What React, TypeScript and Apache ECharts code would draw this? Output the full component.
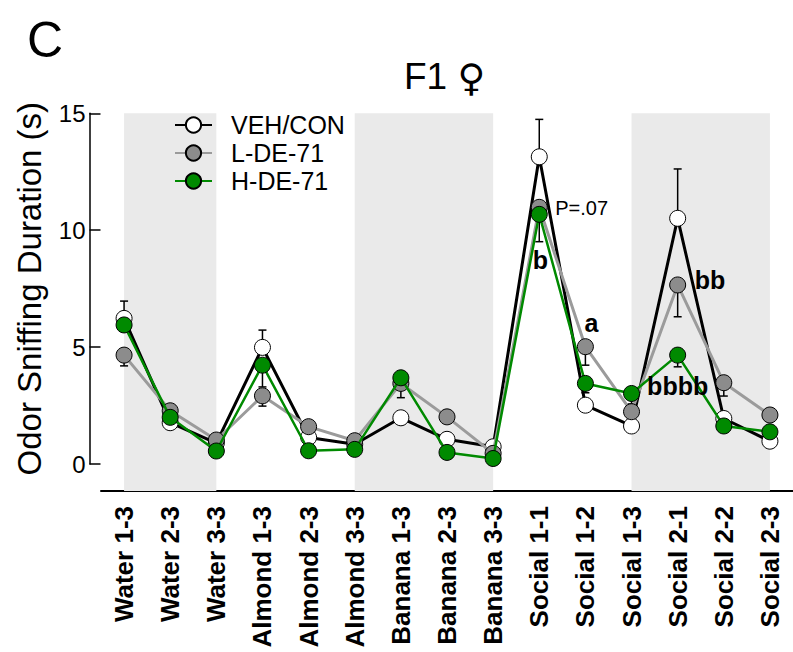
import React, { useEffect, useRef } from "react";
import * as echarts from "echarts";

const categories = [
  "Water 1-3", "Water 2-3", "Water 3-3",
  "Almond 1-3", "Almond 2-3", "Almond 3-3",
  "Banana 1-3", "Banana 2-3", "Banana 3-3",
  "Social 1-1", "Social 1-2", "Social 1-3",
  "Social 2-1", "Social 2-2", "Social 2-3",
];

const vehCon = [6.23, 1.77, 0.9, 4.99, 1.14, 0.85, 1.98, 1.06, 0.74, 13.14, 2.52, 1.63, 10.51, 1.95, 0.98];
const lowDE = [4.66, 2.28, 1.03, 2.92, 1.6, 1.0, 3.45, 2.02, 0.46, 10.98, 5.02, 2.24, 7.66, 3.48, 2.1];
const highDE = [5.95, 2.0, 0.56, 4.23, 0.57, 0.63, 3.69, 0.5, 0.24, 10.68, 3.45, 3.02, 4.66, 1.63, 1.38];

// error bar end values (null = not visible)
const vehErrEnd = [6.97, null, null, 5.73, null, null, null, null, null, 14.74, null, null, 12.62, null, null];
const lowErrEnd = [4.2, null, null, 2.48, null, null, 2.84, null, null, 9.51, 4.23, null, 6.3, 2.91, null];
const highErrEnd = [null, null, null, 3.3, null, null, null, null, null, null, 3.05, 2.57, 4.16, null, null];

const yTicks = [0, 5, 10, 15];

const bands = [
  ["Water 1-3", "Water 3-3"],
  ["Almond 3-3", "Banana 3-3"],
  ["Social 1-3", "Social 2-3"],
];

const FONT = "'Liberation Sans', Arial, Helvetica, sans-serif";

function errData(vals: number[], ends: (number | null)[]) {
  const out: number[][] = [];
  ends.forEach((e, i) => {
    if (e !== null) out.push([i, vals[i], e]);
  });
  return out;
}

const errRender = (params: any, api: any) => {
  const x = api.value(0);
  const v = api.value(1);
  const e = api.value(2);
  const p1 = api.coord([x, v]);
  const p2 = api.coord([x, e]);
  const cap = 4;
  return {
    type: "group",
    children: [
      { type: "line", shape: { x1: p1[0], y1: p1[1], x2: p2[0], y2: p2[1] }, style: { stroke: "#000", lineWidth: 1.5 } },
      { type: "line", shape: { x1: p2[0] - cap, y1: p2[1], x2: p2[0] + cap, y2: p2[1] }, style: { stroke: "#000", lineWidth: 1.5 } },
    ],
  };
};

export default function App() {
  const ref = useRef<HTMLDivElement>(null);
  useEffect(() => {
    if (!ref.current) return;
    const chart = echarts.init(ref.current, null, { renderer: "svg" });
    const annoBold = { fontFamily: FONT, fontWeight: "bold", fontSize: 25, color: "#000" };
    const option: any = {
      animation: false,
      backgroundColor: "#fff",
      textStyle: { fontFamily: FONT },
      title: [
        { text: "C", left: 22, top: 10, textStyle: { fontFamily: FONT, fontSize: 50, fontWeight: "normal", color: "#000" } },
        {
          text: "F1 {g|♀}",
          left: 399,
          top: 52,
          textStyle: {
            fontFamily: FONT,
            fontSize: 37,
            fontWeight: "normal",
            color: "#000",
            rich: { g: { fontFamily: "'Noto Sans', 'DejaVu Sans', sans-serif", fontSize: 38, fontWeight: "normal", color: "#000" } },
          },
        },
      ],
      legend: {
        data: ["VEH/CON", "L-DE-71", "H-DE-71"],
        orient: "vertical",
        left: 174,
        top: 111,
        padding: 0,
        itemWidth: 37,
        itemHeight: 19,
        itemGap: 0,
        selectedMode: false,
        textStyle: { fontFamily: FONT, fontSize: 25, color: "#000", lineHeight: 28, padding: [0, 0, 0, 14] },
      },
      grid: [
        { left: 101, top: 113.3, width: 693, height: 377.7 },
        { left: 89.5, top: 113.3, width: 11, height: 350.8 },
      ],
      xAxis: [
        {
          type: "category",
          gridIndex: 0,
          data: categories,
          boundaryGap: true,
          axisLine: { onZero: false, lineStyle: { color: "#000", width: 2 } },
          axisTick: { alignWithLabel: true, length: 10, lineStyle: { color: "#000", width: 2 } },
          axisLabel: { rotate: 90, margin: 15, fontFamily: FONT, fontSize: 26, fontWeight: "bold", color: "#000", interval: 0 },
        },
        { type: "value", gridIndex: 1, show: false, min: 0, max: 1 },
      ],
      yAxis: [
        { type: "value", gridIndex: 0, min: -1.15, max: 15, show: false },
        {
          type: "value",
          gridIndex: 1,
          min: 0,
          max: 15,
          interval: 5,
          name: "Odor Sniffing Duration (s)",
          nameLocation: "middle",
          nameGap: 44,
          nameRotate: 90,
          nameTextStyle: { fontFamily: FONT, fontSize: 33, color: "#000" },
          axisLine: { show: true, lineStyle: { color: "#000", width: 1.5 } },
          axisTick: { show: true, inside: true, length: 11, lineStyle: { color: "#000", width: 1.5 } },
          axisLabel: {
            margin: 4,
            fontFamily: FONT,
            fontSize: 24,
            color: "#000",
            formatter: (v: number) => (yTicks.includes(v) ? String(v) : ""),
          },
          splitLine: { show: false },
        },
      ],
      series: [
        {
          name: "bands",
          type: "line",
          xAxisIndex: 0,
          yAxisIndex: 0,
          data: [],
          z: 0,
          silent: true,
          markArea: {
            silent: true,
            itemStyle: { color: "#eaeaea" },
            data: bands.map(([a, b]) => [{ xAxis: a }, { xAxis: b }]),
          },
        },
        {
          name: "veh-err",
          type: "custom",
          xAxisIndex: 0,
          yAxisIndex: 0,
          z: 1,
          renderItem: errRender,
          encode: { x: 0, y: [1, 2] },
          data: errData(vehCon, vehErrEnd),
        },
        {
          name: "low-err",
          type: "custom",
          xAxisIndex: 0,
          yAxisIndex: 0,
          z: 1,
          renderItem: errRender,
          encode: { x: 0, y: [1, 2] },
          data: errData(lowDE, lowErrEnd),
        },
        {
          name: "high-err",
          type: "custom",
          xAxisIndex: 0,
          yAxisIndex: 0,
          z: 1,
          renderItem: errRender,
          encode: { x: 0, y: [1, 2] },
          data: errData(highDE, highErrEnd),
        },
        {
          name: "VEH/CON",
          type: "line",
          xAxisIndex: 0,
          yAxisIndex: 0,
          z: 2,
          data: vehCon,
          symbol: "circle",
          symbolSize: 16,
          showAllSymbol: true,
          lineStyle: { color: "#000", width: 3 },
          itemStyle: { color: "#fff", borderColor: "#000", borderWidth: 1 },
        },
        {
          name: "L-DE-71",
          type: "line",
          xAxisIndex: 0,
          yAxisIndex: 0,
          z: 3,
          data: lowDE,
          symbol: "circle",
          symbolSize: 16,
          showAllSymbol: true,
          lineStyle: { color: "#9b9b9b", width: 3 },
          itemStyle: { color: "#8c8c8c", borderColor: "#000", borderWidth: 1 },
          markPoint: {
            symbol: "circle",
            symbolSize: 0,
            silent: true,
            data: [
              { coord: [9, lowDE[9]], label: { show: true, position: "inside", formatter: "P=.07", offset: [16, 1], align: "left", verticalAlign: "middle", fontFamily: FONT, fontSize: 20, color: "#000" } },
              { coord: [10, lowDE[10]], label: { show: true, position: "inside", formatter: "a", offset: [6, -24], align: "center", verticalAlign: "middle", ...annoBold } },
              { coord: [12, lowDE[12]], label: { show: true, position: "inside", formatter: "bb", offset: [17, -5], align: "left", verticalAlign: "middle", ...annoBold } },
            ],
          },
        },
        {
          name: "H-DE-71",
          type: "line",
          xAxisIndex: 0,
          yAxisIndex: 0,
          z: 4,
          data: highDE,
          symbol: "circle",
          symbolSize: 16,
          showAllSymbol: true,
          lineStyle: { color: "#008a00", width: 2.5 },
          itemStyle: { color: "#008a00", borderColor: "#000", borderWidth: 1 },
          markPoint: {
            symbol: "circle",
            symbolSize: 0,
            silent: true,
            data: [
              { coord: [9, highDE[9]], label: { show: true, position: "inside", formatter: "b", offset: [1, 46], align: "center", verticalAlign: "middle", ...annoBold } },
              { coord: [12, highDE[12]], label: { show: true, position: "inside", formatter: "bbbb", offset: [0, 31], align: "center", verticalAlign: "middle", ...annoBold } },
            ],
          },
        },
      ],
    };
    chart.setOption(option);
    return () => chart.dispose();
  }, []);
  return <div ref={ref} style={{ position: "absolute", left: 0, top: 0, width: 793, height: 652 }} />;
}
